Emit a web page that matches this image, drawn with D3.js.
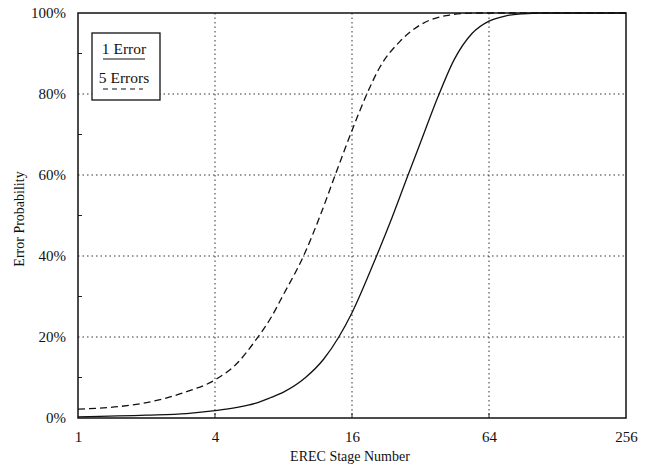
<!DOCTYPE html>
<html><head><meta charset="utf-8">
<script src="https://cdn.jsdelivr.net/npm/d3@7"></script>
<style>body{margin:0;background:#fff}svg{display:block}text{font-family:"Liberation Serif","Times New Roman",serif;fill:#111}</style>
</head><body><svg id="c" width="646" height="465"></svg>
<script>
const xTicks = [1, 4, 16, 64, 256];
const yTicks = [0, 20, 40, 60, 80, 100];
const yMinorTicks = [10, 30, 50, 70, 90];
const oneErrorX = [1, 2, 3, 4, 5, 6, 7, 8, 10, 12, 14, 16, 20, 24, 28, 32, 38, 45, 54, 64, 76, 90, 110, 256];
const oneErrorY = [0.3, 0.7, 1.1, 1.8, 2.6, 3.6, 5, 6.4, 10, 14.5, 20, 26, 38.5, 49.5, 59.5, 68, 79, 88.5, 95, 98, 99.3, 99.8, 100, 100];
const fiveErrorX = [1, 1.5, 2, 3, 4, 5, 6, 7, 8, 9.8, 11.6, 13.5, 16, 18.6, 21.2, 26, 31.8, 43, 56, 256];
const fiveErrorY = [2.2, 2.8, 3.8, 6.5, 9.4, 13.5, 19, 24.5, 30.5, 40, 50, 60, 71, 80, 86.6, 93, 97, 99.5, 100, 100];
const legendLabels = ["1 Error", "5 Errors"];
const xTitle = "EREC Stage Number";
const yTitle = "Error Probability";

const svg = d3.select("#c");
const L = 78, R = 626, T = 13, B = 418;
const x = d3.scaleLog().base(2).domain([1, 256]).range([L, R]);
const y = d3.scaleLinear().domain([0, 100]).range([B, T]);

// grid
const g = svg.append("g");
g.selectAll(".vg").data(xTicks.slice(1, -1)).join("line")
  .attr("x1", d => x(d)).attr("x2", d => x(d)).attr("y1", T).attr("y2", B)
  .attr("stroke", "#333").attr("stroke-width", 1).attr("stroke-dasharray", "1.5,3");
g.selectAll(".hg").data(yTicks.slice(1, -1)).join("line")
  .attr("y1", d => y(d)).attr("y2", d => y(d)).attr("x1", L).attr("x2", R)
  .attr("stroke", "#333").attr("stroke-width", 1).attr("stroke-dasharray", "1.5,3");

// minor ticks on left, inner ticks on bottom
g.selectAll(".mt").data(yMinorTicks).join("line")
  .attr("x1", L).attr("x2", L + 4).attr("y1", d => y(d)).attr("y2", d => y(d))
  .attr("stroke", "#222").attr("stroke-width", 1);
g.selectAll(".xt").data(xTicks.slice(1, -1)).join("line")
  .attr("x1", d => x(d)).attr("x2", d => x(d)).attr("y1", B).attr("y2", B - 5)
  .attr("stroke", "#222").attr("stroke-width", 1);

// frame
svg.append("rect").attr("x", L).attr("y", T).attr("width", R - L).attr("height", B - T)
  .attr("fill", "none").attr("stroke", "#111").attr("stroke-width", 1.5);

// axes labels via d3 axes
svg.append("g").attr("transform", `translate(0,${B})`)
  .call(d3.axisBottom(x).tickValues(xTicks).tickFormat(d3.format("d")).tickSize(0).tickPadding(13));
svg.append("g").attr("transform", `translate(${L},0)`)
  .call(d3.axisLeft(y).tickValues(yTicks).tickFormat(d => d + "%").tickSize(0).tickPadding(12));
svg.selectAll(".domain").remove();
svg.selectAll(".tick text").style("font-family", "Liberation Serif, serif").style("font-size", "15px").attr("fill", "#111");

svg.append("text").attr("x", 350).attr("y", 461).attr("text-anchor", "middle")
  .style("font-size", "14px").text(xTitle);
svg.append("text").attr("transform", "translate(24,219) rotate(-90)").attr("text-anchor", "middle")
  .style("font-size", "14px").text(yTitle);

// curves
const line = d3.line().x(d => x(d[0])).y(d => y(d[1])).curve(d3.curveMonotoneX);
svg.append("path").datum(oneErrorX.map((v, i) => [v, oneErrorY[i]]))
  .attr("d", line).attr("fill", "none").attr("stroke", "#111").attr("stroke-width", 1.3);
svg.append("path").datum(fiveErrorX.map((v, i) => [v, fiveErrorY[i]]))
  .attr("d", line).attr("fill", "none").attr("stroke", "#111").attr("stroke-width", 1.3)
  .attr("stroke-dasharray", "7,4");

// legend
const lg = svg.append("g");
lg.append("rect").attr("x", 92).attr("y", 33).attr("width", 68).attr("height", 67)
  .attr("fill", "#fff").attr("stroke", "#111").attr("stroke-width", 1.3);
lg.append("text").attr("x", 124).attr("y", 54).attr("text-anchor", "middle").style("font-size", "15.5px").text(legendLabels[0]);
lg.append("line").attr("x1", 103).attr("x2", 145).attr("y1", 59).attr("y2", 59).attr("stroke", "#111").attr("stroke-width", 1.2);
lg.append("text").attr("x", 124).attr("y", 83).attr("text-anchor", "middle").style("font-size", "15.5px").text(legendLabels[1]);
lg.append("line").attr("x1", 103).attr("x2", 143).attr("y1", 89).attr("y2", 89).attr("stroke", "#111").attr("stroke-width", 1.2).attr("stroke-dasharray", "5,4");
</script></body></html>
